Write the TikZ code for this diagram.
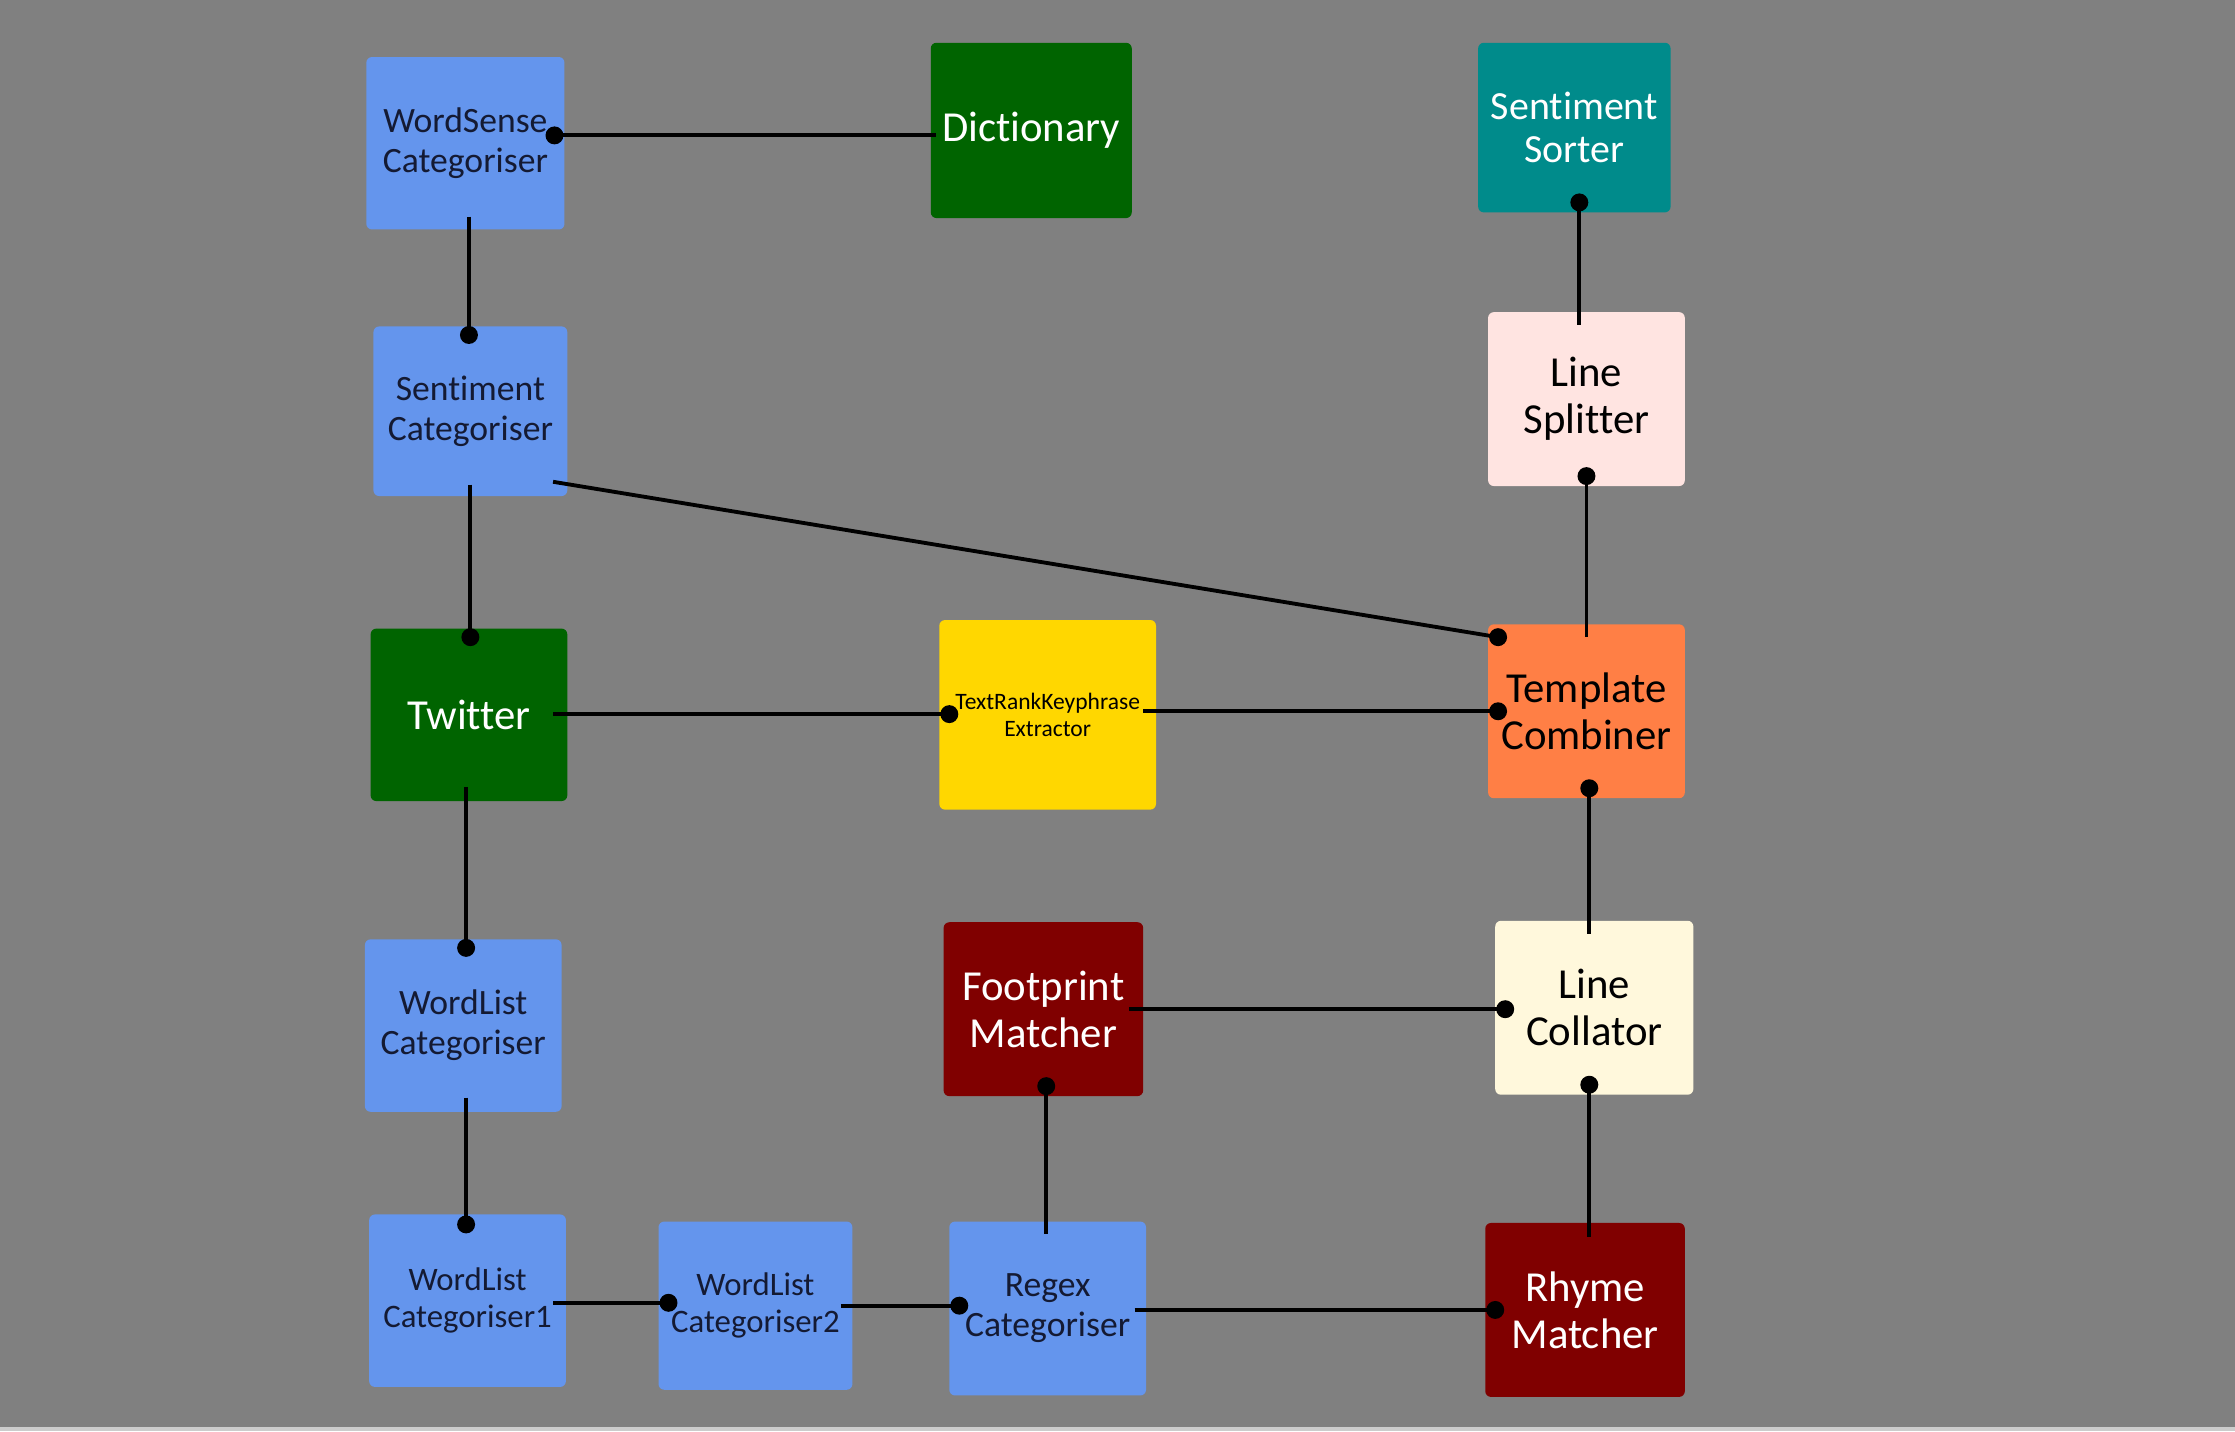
\documentclass[tikz,border=0pt]{standalone}
\usepackage{fontspec}
\setmainfont{Carlito}[Ligatures=NoCommon]
\usetikzlibrary{calc}
\definecolor{bgc}{HTML}{808080}
\definecolor{cblue}{HTML}{6495ED}
\definecolor{cgreen}{HTML}{006400}
\definecolor{cteal}{HTML}{008B8B}
\definecolor{crose}{HTML}{FFE4E1}
\definecolor{cgold}{HTML}{FFD700}
\definecolor{ccoral}{HTML}{FF7F45}
\definecolor{cmaroon}{HTML}{800000}
\definecolor{csilk}{HTML}{FFF8DC}
\definecolor{cnavy}{HTML}{141A33}
\begin{document}
\begin{tikzpicture}[x=1pt,y=-1pt,
  box/.style={rectangle, rounded corners=4pt, inner sep=0pt, align=center},
  bluebox/.style={box, fill=cblue, text=cnavy},
  small/.style={font=\fontsize{25}{28}\selectfont},
  smaller/.style={font=\fontsize{23}{26}\selectfont},
  large/.style={font=\fontsize{30}{33}\selectfont},
  conn/.style={line width=2.7pt, black},
  dotc/.style={fill=black}]
\fill[bgc] (0,0) rectangle (1568,1004);
\fill[black!20] (0,1001) rectangle (1568,1004);
\useasboundingbox (0,0) rectangle (1568,1004);

% nodes
\node[bluebox, small, minimum width=139pt, minimum height=121pt] (ws) at (326.5,100.5) {WordSense\\Categoriser};
\node[box, fill=cgreen, text=white, large, minimum width=141pt, minimum height=123pt] (dict) at (723.5,91.5) {Dictionary};
\node[box, fill=cteal, text=white, font=\fontsize{28}{30}\selectfont, minimum width=135pt, minimum height=119pt] (ssort) at (1104.5,89.5) {Sentiment\\Sorter};
\node[bluebox, small, minimum width=136pt, minimum height=119pt] (scat) at (330,288.5) {Sentiment\\Categoriser};
\node[box, fill=crose, text=black, large, minimum width=138pt, minimum height=122pt] (lsplit) at (1113,280) {Line\\Splitter};
\node[box, fill=cgreen, text=white, large, minimum width=138pt, minimum height=121pt] (tw) at (329,501.5) {Twitter};
\node[box, fill=cgold, text=black, font=\fontsize{16.5}{18.5}\selectfont, minimum width=152pt, minimum height=133pt] (tr) at (735,501.5) {TextRankKeyphrase\\Extractor};
\node[box, fill=ccoral, text=black, large, minimum width=138pt, minimum height=122pt] (tc) at (1113,499) {Template\\Combiner};
\node[bluebox, small, minimum width=138pt, minimum height=121pt] (wl) at (325,719.5) {WordList\\Categoriser};
\node[box, fill=cmaroon, text=white, large, minimum width=140pt, minimum height=122pt] (fp) at (732,708) {Footprint\\Matcher};
\node[box, fill=csilk, text=black, large, minimum width=139pt, minimum height=122pt] (lc) at (1118.5,707) {Line\\Collator};
\node[bluebox, smaller, minimum width=138pt, minimum height=121pt] (wla) at (328,912.5) {WordList\\Categoriser1};
\node[bluebox, smaller, minimum width=136pt, minimum height=118pt] (wlb) at (530,916) {WordList\\Categoriser2};
\node[bluebox, small, minimum width=138pt, minimum height=122pt] (rx) at (735,918) {Regex\\Categoriser};
\node[box, fill=cmaroon, text=white, large, minimum width=140pt, minimum height=122pt] (rm) at (1112,919) {Rhyme\\Matcher};

% connectors
\draw[conn] ($(ws.center)+(62.5,-5.5)$) coordinate (d1) -- ($(dict.center)+(-66.5,3.5)$);
\fill[dotc] (d1) circle (6.3pt);
\draw[conn] ($(ws.center)+(2.5,51.5)$) -- ($(scat.center)+(-1,-53.5)$) coordinate (d2);
\fill[dotc] (d2) circle (6.3pt);
\draw[conn] ($(scat.center)+(0,51.5)$) -- ($(tw.center)+(1,-54.5)$) coordinate (d3);
\fill[dotc] (d3) circle (6.3pt);
\draw[conn] ($(scat.center)+(58,49.5)$) -- ($(tc.center)+(-62,-52)$) coordinate (d4);
\fill[dotc] (d4) circle (6.3pt);
\draw[conn] ($(tw.center)+(59,-0.5)$) -- ($(tr.center)+(-69,-0.5)$) coordinate (d5);
\fill[dotc] (d5) circle (6.3pt);
\draw[conn] ($(tr.center)+(67,-2.5)$) -- ($(tc.center)+(-62,0)$) coordinate (d6);
\fill[dotc] (d6) circle (6.3pt);
\draw[conn] ($(ssort.center)+(3.5,52.5)$) coordinate (d7) -- ($(lsplit.center)+(-5,-52)$);
\fill[dotc] (d7) circle (6.3pt);
\draw[conn] ($(lsplit.center)+(0,54)$) coordinate (d8) -- ($(tc.center)+(0,-52)$);
\fill[dotc] (d8) circle (6.3pt);
\draw[conn] ($(tc.center)+(2,54)$) coordinate (d9) -- ($(lc.center)+(-3.5,-52)$);
\fill[dotc] (d9) circle (6.3pt);
\draw[conn] ($(fp.center)+(60,0)$) -- ($(lc.center)+(-62.5,1)$) coordinate (d10);
\fill[dotc] (d10) circle (6.3pt);
\draw[conn] ($(lc.center)+(-3.5,54)$) coordinate (d11) -- ($(rm.center)+(3,-51)$);
\fill[dotc] (d11) circle (6.3pt);
\draw[conn] ($(tw.center)+(-2,50.5)$) -- ($(wl.center)+(2,-54.5)$) coordinate (d12);
\fill[dotc] (d12) circle (6.3pt);
\draw[conn] ($(wl.center)+(2,50.5)$) -- ($(wla.center)+(-1,-53.5)$) coordinate (d13);
\fill[dotc] (d13) circle (6.3pt);
\draw[conn] ($(wla.center)+(60,1.5)$) -- ($(wlb.center)+(-61,-2)$) coordinate (d14);
\fill[dotc] (d14) circle (6.3pt);
\draw[conn] ($(wlb.center)+(60,0)$) -- ($(rx.center)+(-62,-2)$) coordinate (d15);
\fill[dotc] (d15) circle (6.3pt);
\draw[conn] ($(fp.center)+(2,54)$) coordinate (d16) -- ($(rx.center)+(-1,-52)$);
\fill[dotc] (d16) circle (6.3pt);
\draw[conn] ($(rx.center)+(61,1)$) -- ($(rm.center)+(-63,0)$) coordinate (d17);
\fill[dotc] (d17) circle (6.3pt);
\end{tikzpicture}
\end{document}
